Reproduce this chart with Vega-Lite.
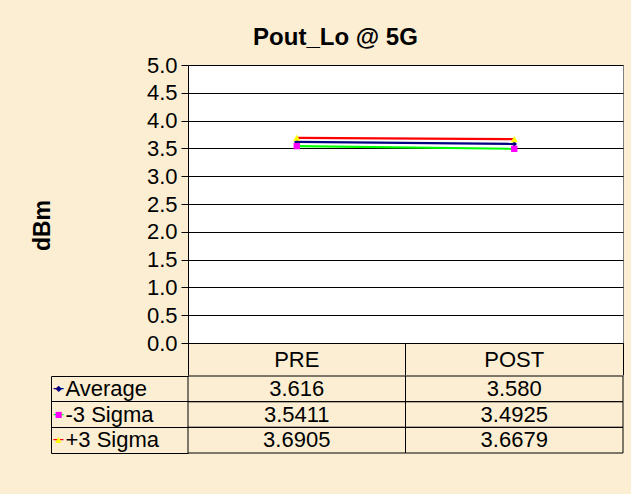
{
  "$schema": "https://vega.github.io/schema/vega-lite/v6.json",
  "background": "#FBEED3",
  "padding": {"left": 30, "top": 25, "right": 8, "bottom": 41},
  "title": {"text": "Pout_Lo @ 5G", "font": "Liberation Sans", "fontSize": 24, "fontWeight": "bold", "color": "black", "anchor": "middle", "offset": 4, "dx": 8},
  "config": {"font": "Liberation Sans", "view": {"stroke": null}},
  "datasets": {
    "stats": [
      {"series": "Average", "phase": "PRE", "value": 3.616},
      {"series": "Average", "phase": "POST", "value": 3.580},
      {"series": "-3 Sigma", "phase": "PRE", "value": 3.5411},
      {"series": "-3 Sigma", "phase": "POST", "value": 3.4925},
      {"series": "+3 Sigma", "phase": "PRE", "value": 3.6905},
      {"series": "+3 Sigma", "phase": "POST", "value": 3.6679}
    ]
  },
  "spacing": -11,
  "resolve": {"scale": {"x": "independent", "y": "independent"}},
  "vconcat": [
    {
      "width": 435,
      "height": 278,
      "view": {"fill": "white", "stroke": "#808080"},
      "data": {"name": "stats"},
      "encoding": {
        "x": {
          "field": "phase", "type": "nominal", "sort": ["PRE", "POST"],
          "scale": {"type": "band", "paddingInner": 0, "paddingOuter": 0},
          "bandPosition": 0.5,
          "axis": {"title": null, "orient": "bottom", "labelAngle": 0, "labelFontSize": 22, "labelColor": "black", "labelPadding": -16, "labelBaseline": "middle", "tickSize": 32, "tickColor": "black", "bandPosition": 1, "tickExtra": true, "domainColor": "black", "grid": false}
        },
        "y": {
          "field": "value", "type": "quantitative",
          "scale": {"domain": [0, 5], "nice": false},
          "axis": {"title": "dBm", "values": [0, 0.5, 1, 1.5, 2, 2.5, 3, 3.5, 4, 4.5, 5], "format": ".1f", "labelFontSize": 22, "labelColor": "black", "labelPadding": 4, "tickSize": 7, "tickColor": "black", "domainColor": "black", "gridColor": "black", "gridOpacity": 1, "titleFontSize": 23, "titleFontWeight": "bold", "titleColor": "black", "titlePadding": 92, "titleY": 160}
        }
      },
      "layer": [
        {
          "mark": {"type": "line", "strokeWidth": 2.2},
          "encoding": {
            "stroke": {"field": "series", "type": "nominal", "scale": {"domain": ["Average", "-3 Sigma", "+3 Sigma"], "range": ["#000080", "#00FF00", "#FF0000"]}, "legend": null}
          }
        },
        {
          "mark": {"type": "point", "filled": true, "opacity": 1, "strokeWidth": 0},
          "encoding": {
            "fill": {"field": "series", "type": "nominal", "scale": {"domain": ["Average", "-3 Sigma", "+3 Sigma"], "range": ["#000080", "#FF00FF", "#FFFF00"]}, "legend": null},
            "shape": {"field": "series", "type": "nominal", "scale": {"domain": ["Average", "-3 Sigma", "+3 Sigma"], "range": ["diamond", "square", "triangle-up"]}, "legend": null},
            "size": {"field": "series", "type": "nominal", "scale": {"domain": ["Average", "-3 Sigma", "+3 Sigma"], "range": [30, 50, 70]}, "legend": null}
          }
        }
      ]
    },
    {
      "width": 435,
      "height": 77,
      "data": {"name": "stats"},
      "layer": [
        {
          "mark": {"type": "rect", "fill": "transparent", "stroke": "black", "strokeWidth": 1},
          "encoding": {
            "x": {"field": "phase", "type": "nominal", "sort": ["PRE", "POST"], "scale": {"type": "band", "paddingInner": 0, "paddingOuter": 0}, "axis": null},
            "y": {
              "field": "series", "type": "nominal", "sort": ["Average", "-3 Sigma", "+3 Sigma"],
              "scale": {"type": "band", "paddingInner": 0, "paddingOuter": 0},
              "axis": {"orient": "left", "offset": 137, "title": null, "tickSize": -137, "tickColor": "black", "bandPosition": 1, "tickExtra": true, "domainColor": "black", "labelAlign": "left", "labelBaseline": "middle", "labelPadding": 123, "labelFontSize": 22, "labelColor": "black"}
            }
          }
        },
        {
          "mark": {"type": "text", "fontSize": 22, "color": "black"},
          "encoding": {
            "x": {"field": "phase", "type": "nominal", "sort": ["PRE", "POST"], "bandPosition": 0.5, "axis": null},
            "y": {
              "field": "series", "type": "nominal", "sort": ["Average", "-3 Sigma", "+3 Sigma"], "bandPosition": 0.5,
              "axis": {"orient": "left", "offset": 137, "title": null, "ticks": false, "domain": false, "labelAlign": "left", "labelBaseline": "middle", "labelPadding": -2, "labelFontSize": 10, "labelFontWeight": "bold", "labelExpr": "'\u2014'", "labelColor": {"expr": "datum.value == 'Average' ? '#000080' : datum.value == '-3 Sigma' ? '#00FF00' : '#FF0000'"}}
            },
            "text": {"condition": {"test": "datum.series == 'Average'", "field": "value", "format": ".3f"}, "field": "value", "format": ".4f"}
          }
        },
        {
          "mark": {"type": "point", "opacity": 0},
          "encoding": {
            "x": {"field": "phase", "type": "nominal", "sort": ["PRE", "POST"], "bandPosition": 0.5, "axis": null},
            "y": {
              "field": "series", "type": "nominal", "sort": ["Average", "-3 Sigma", "+3 Sigma"], "bandPosition": 0.5,
              "axis": {"orient": "left", "offset": 137, "title": null, "ticks": false, "domain": false, "labelAlign": "center", "labelBaseline": "middle", "labelPadding": -7, "labelFont": "DejaVu Sans", "labelFontSize": 8, "labelExpr": "datum.value == 'Average' ? '\u25c6' : datum.value == '-3 Sigma' ? '\u25a0' : '\u25b2'", "labelColor": {"expr": "datum.value == 'Average' ? '#000080' : datum.value == '-3 Sigma' ? '#FF00FF' : '#FFFF00'"}}
            }
          }
        }
      ],
      "resolve": {"axis": {"y": "independent"}}
    }
  ]
}
